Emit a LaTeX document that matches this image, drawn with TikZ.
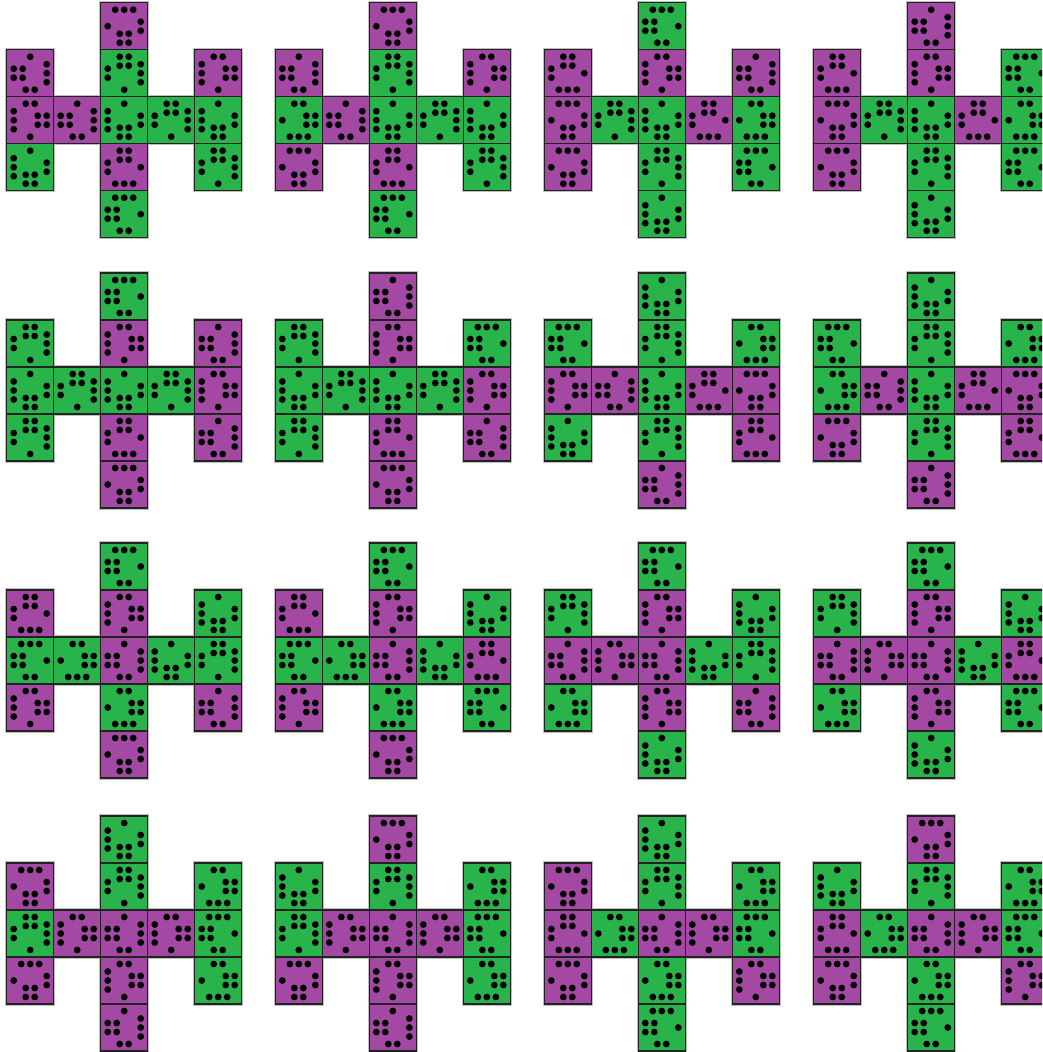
\documentclass[tikz,border=0pt]{standalone}
\definecolor{pcol}{HTML}{A349A4}
\definecolor{gcol}{HTML}{29B34B}
\definecolor{edgec}{HTML}{222222}
\tikzset{dotc/.style={fill=black},halo/.style={draw=black!25,line width=3.5pt}}
\newcommand\setgl[1]{\ifcase#1\relax\or\def\gl{0/7}\or\def\gl{-4.5/7,4.5/7}\or\def\gl{-9/7,0/7,9/7}\or\def\gl{-4.5/7,4.5/7,-4.5/16,4.5/16}\fi}
\newcommand\grpT[1]{\setgl{#1}\foreach \uu/\dd in \gl {\fill[dotc] (\uu,\dd-23.5) circle[radius=3.4];}}
\newcommand\grpB[1]{\setgl{#1}\foreach \uu/\dd in \gl {\fill[dotc] (\uu,23.5-\dd) circle[radius=3.4];}}
\newcommand\grpL[1]{\setgl{#1}\foreach \uu/\dd in \gl {\fill[dotc] (\dd-23.5,\uu) circle[radius=3.4];}}
\newcommand\grpR[1]{\setgl{#1}\foreach \uu/\dd in \gl {\fill[dotc] (23.5-\dd,\uu) circle[radius=3.4];}}
\newcommand\celldraw[5]{\filldraw[fill=#1,draw=edgec,line width=1.3pt] (-23.5,-23.5) rectangle (23.5,23.5);\grpT{#2}\grpR{#3}\grpB{#4}\grpL{#5}}
\expandafter\def\csname kP1\endcsname{\celldraw{pcol}{1}{3}{2}{4}}
\expandafter\def\csname kP3\endcsname{\celldraw{pcol}{3}{2}{4}{1}}
\expandafter\def\csname kP2\endcsname{\celldraw{pcol}{2}{4}{1}{3}}
\expandafter\def\csname kP4\endcsname{\celldraw{pcol}{4}{1}{3}{2}}
\expandafter\def\csname kG1\endcsname{\celldraw{gcol}{1}{2}{4}{3}}
\expandafter\def\csname kG2\endcsname{\celldraw{gcol}{2}{4}{3}{1}}
\expandafter\def\csname kG4\endcsname{\celldraw{gcol}{4}{3}{1}{2}}
\expandafter\def\csname kG3\endcsname{\celldraw{gcol}{3}{1}{2}{4}}
\newcommand\dnet[3]{%
\foreach \cc/\rr/\kk in {#3} {\draw[halo] ({#1+47*\cc},{#2+47*\rr}) rectangle +(47,47);}%
\foreach \cc/\rr/\kk in {#3} {\begin{scope}[shift={({#1+47*\cc+23.5},{#2+47*\rr+23.5})}]\csname k\kk\endcsname\end{scope}}%
}
\begin{document}
\begin{tikzpicture}[x=1pt,y=-1pt]
\useasboundingbox (0,0) rectangle (1042,1052);
\clip (0,0) rectangle (1042,1052);
\dnet{6.7}{2.7}{2/0/P3,0/1/P1,2/1/G4,4/1/P2,0/2/P2,1/2/P1,2/2/G1,3/2/G4,4/2/G1,0/3/G1,2/3/P4,4/3/G4,2/4/G3}
\dnet{275.3}{2.7}{2/0/P3,0/1/P1,2/1/G4,4/1/P2,0/2/G2,1/2/P1,2/2/G1,3/2/G4,4/2/G1,0/3/P3,2/3/P4,4/3/G4,2/4/G3}
\dnet{544.3}{2.7}{2/0/G3,0/1/P4,2/1/P2,4/1/P1,0/2/P3,1/2/G4,2/2/G1,3/2/P4,4/2/G2,0/3/P3,2/3/G4,4/3/G3,2/4/G1}
\dnet{813.7}{2.7}{2/0/P1,0/1/P4,2/1/P2,4/1/G3,0/2/P3,1/2/G4,2/2/G1,3/2/P4,4/2/G2,0/3/P3,2/3/G4,4/3/G3,2/4/G1}
\dnet{6.7}{273}{2/0/G3,0/1/G4,2/1/P2,4/1/P1,0/2/G1,1/2/G4,2/2/G1,3/2/G4,4/2/P2,0/3/G4,2/3/P4,4/3/P1,2/4/P3}
\dnet{275.3}{273}{2/0/P1,0/1/G4,2/1/P2,4/1/G3,0/2/G1,1/2/G4,2/2/G1,3/2/G4,4/2/P2,0/3/G4,2/3/P4,4/3/P1,2/4/P3}
\dnet{544.3}{273}{2/0/G1,0/1/G3,2/1/G4,4/1/G2,0/2/P2,1/2/P1,2/2/G1,3/2/P4,4/2/P3,0/3/G1,2/3/G4,4/3/P4,2/4/P1}
\dnet{813.7}{273}{2/0/G1,0/1/G3,2/1/G4,4/1/G2,0/2/G2,1/2/P1,2/2/G1,3/2/P4,4/2/P3,0/3/P3,2/3/G4,4/3/P4,2/4/P1}
\dnet{6.7}{543}{2/0/G3,0/1/P4,2/1/P2,4/1/G1,0/2/G3,1/2/G2,2/2/P1,3/2/G1,4/2/G4,0/3/P2,2/3/G2,4/3/P1,2/4/P3}
\dnet{275.3}{543}{2/0/G3,0/1/P4,2/1/P2,4/1/G1,0/2/G3,1/2/G2,2/2/P1,3/2/G1,4/2/P4,0/3/P2,2/3/G2,4/3/G3,2/4/P3}
\dnet{544.3}{543}{2/0/G3,0/1/G4,2/1/P2,4/1/G1,0/2/P1,1/2/P2,2/2/P1,3/2/G1,4/2/G4,0/3/G2,2/3/P2,4/3/P1,2/4/G1}
\dnet{813.7}{543}{2/0/G3,0/1/G4,2/1/P2,4/1/G1,0/2/P1,1/2/P2,2/2/P1,3/2/G1,4/2/P4,0/3/G2,2/3/P2,4/3/G3,2/4/G1}
\dnet{6.7}{816}{2/0/G1,0/1/P3,2/1/G4,4/1/G2,0/2/G4,1/2/P2,2/2/P1,3/2/P2,4/2/G3,0/3/P3,2/3/P2,4/3/G2,2/4/P1}
\dnet{275.3}{816}{2/0/P3,0/1/G1,2/1/G4,4/1/G2,0/2/G4,1/2/P2,2/2/P1,3/2/P2,4/2/G3,0/3/P3,2/3/P2,4/3/G2,2/4/P1}
\dnet{544.3}{816}{2/0/G1,0/1/P3,2/1/G4,4/1/G2,0/2/P4,1/2/G2,2/2/P1,3/2/P2,4/2/G3,0/3/P3,2/3/G2,4/3/P2,2/4/G3}
\dnet{813.7}{816}{2/0/P3,0/1/G1,2/1/G4,4/1/G2,0/2/P4,1/2/G2,2/2/P1,3/2/P2,4/2/G3,0/3/P3,2/3/G2,4/3/P2,2/4/G3}
\end{tikzpicture}
\end{document}
